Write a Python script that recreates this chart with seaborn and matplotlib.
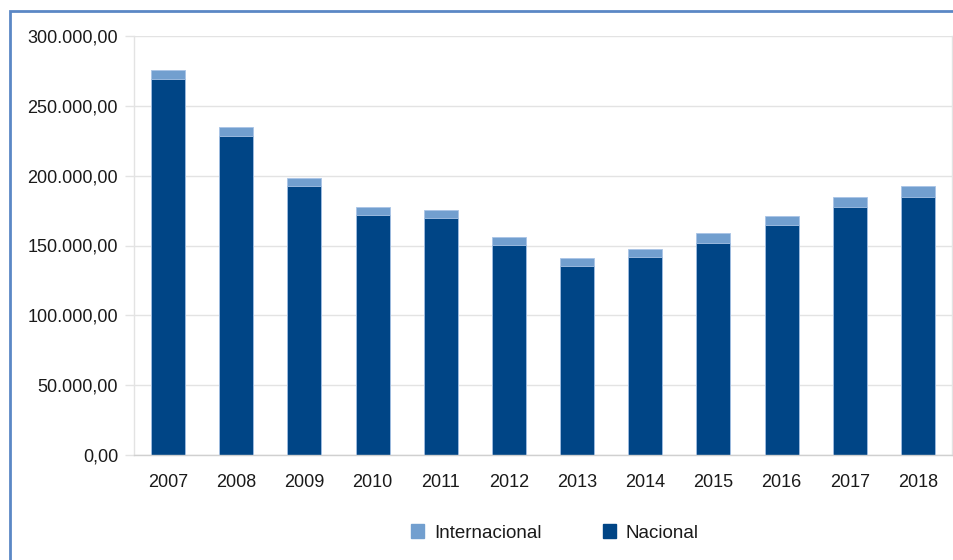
import numpy as np
import pandas as pd
import seaborn as sns
import matplotlib.pyplot as plt
from matplotlib.patches import Rectangle, Patch
from matplotlib.ticker import FuncFormatter, FixedLocator

# Values
years = ['2007', '2008', '2009', '2010', '2011', '2012',
         '2013', '2014', '2015', '2016', '2017', '2018']
nacional = [269000, 228600, 192600, 172100, 169700, 150100,
            135100, 141500, 151800, 164900, 177600, 184500]
internacional = [6700, 6000, 5700, 5500, 5700, 5700,
                 6000, 6200, 7200, 6400, 7400, 8100]

c_nac = '#004586'
c_int = '#729fcf'
grid_c = '#e3e3e3'

df = pd.DataFrame({'ano': years, 'nacional': nacional, 'internacional': internacional})
df['total'] = df['nacional'] + df['internacional']

sns.set_style('white')
plt.rcParams['font.family'] = ['Liberation Sans', 'DejaVu Sans']

fig = plt.figure(figsize=(9.54, 5.6), dpi=100)
ax = fig.add_axes([134 / 954, 105 / 560, 818 / 954, 419 / 560])

# stacked: total in light colour, nacional drawn over it
sns.barplot(data=df, x='ano', y='total', color=c_int, width=0.5, saturation=1,
            edgecolor='#a9c4e6', linewidth=0.6, ax=ax)
sns.barplot(data=df, x='ano', y='nacional', color=c_nac, width=0.5, saturation=1,
            edgecolor='#a9c4e6', linewidth=0.6, ax=ax)

ax.set_ylim(0, 300000)
ax.set_xlim(-0.5, len(years) - 0.5)
ax.set_yticks(np.arange(0, 300001, 50000))
ax.yaxis.set_major_formatter(FuncFormatter(
    lambda v, p: f'{v:,.2f}'.replace(',', 'X').replace('.', ',').replace('X', '.')))
ax.grid(axis='y', color=grid_c, linewidth=1)
ax.set_axisbelow(True)

ax.xaxis.set_minor_locator(FixedLocator(np.arange(-0.5, len(years), 1)))
ax.tick_params(axis='x', which='major', length=0, pad=14, labelsize=13, colors='#1a1a1a')
ax.tick_params(axis='x', which='minor', length=6, width=1, color=grid_c)
ax.tick_params(axis='y', length=6.5, width=1, color=grid_c, pad=5, labelsize=13,
               colors='#1a1a1a', left=True)
ax.set_xlabel('')
ax.set_ylabel('')

for s in ['left', 'right', 'bottom']:
    ax.spines[s].set_color(grid_c)
    ax.spines[s].set_linewidth(1)
ax.spines['bottom'].set_color('#d0d0d0')
ax.spines['top'].set_visible(False)

handles = [Patch(color=c_int, label='Internacional'), Patch(color=c_nac, label='Nacional')]
fig.legend(handles=handles, loc='center', bbox_to_anchor=(555 / 954, 27 / 560), ncol=2,
           frameon=False, fontsize=13.5, handlelength=0.7, handleheight=0.7,
           handletextpad=0.5, columnspacing=3.3, labelcolor='#1a1a1a')

# blue frame of the chart object (top and left visible)
fig.patches.append(Rectangle((10 / 954, -0.05), 1.0, (560 - 11) / 560 + 0.05,
                             transform=fig.transFigure, fill=False,
                             edgecolor='#5b87c5', linewidth=2))

fig.savefig('out.png', dpi=100)
